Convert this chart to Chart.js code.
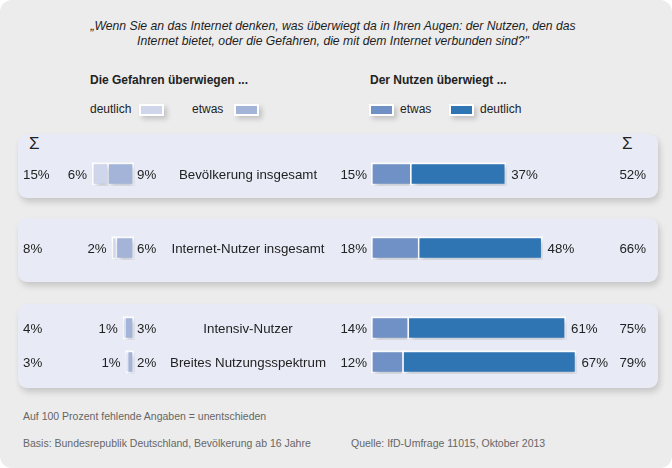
<!DOCTYPE html>
<html>
<head>
<meta charset="utf-8">
<script src="https://cdn.jsdelivr.net/npm/chart.js@4.4.1/dist/chart.umd.min.js"></script>
<style>
  body { margin: 0; background: #fff; font-family: "Liberation Sans", Arial, sans-serif; color: #222; }
  #page { position: absolute; left: 0; top: 0; width: 672px; height: 468px; background: #ececec; border-radius: 12px; overflow: hidden; }
  .t { position: absolute; white-space: nowrap; line-height: 16px; font-size: 12px; }
  .panel { position: absolute; left: 18px; width: 640px; background: #e8ebf6; border-radius: 9px; box-shadow: 2px 4px 6px rgba(0,0,0,0.16); }
  .sw { position: absolute; top: 104px; width: 21px; height: 8px; border: 2px solid #fff; box-shadow: 3px 3px 5px rgba(0,0,0,0.18); }
  canvas { position: absolute; left: 0; }
  .foot { color: #666; font-size: 10.5px; }
</style>
</head>
<body>
<div id="page">
  <div class="t" style="left:0;width:666px;top:19px;text-align:center;font-style:italic;line-height:15px;font-size:12.2px;color:#1e1e1e">„Wenn Sie an das Internet denken, was überwiegt da in Ihren Augen: der Nutzen, den das<br>Internet bietet, oder die Gefahren, die mit dem Internet verbunden sind?"</div>

  <div class="t" style="left:90px;top:72px;font-weight:bold">Die Gefahren überwiegen ...</div>
  <div class="t" style="left:370px;top:72px;font-weight:bold">Der Nutzen überwiegt ...</div>

  <div class="t" style="left:90px;top:101px">deutlich</div>
  <div class="sw" id="sw-gd" style="left:139px"></div>
  <div class="t" style="left:192px;top:101px">etwas</div>
  <div class="sw" id="sw-ge" style="left:234px"></div>
  <div class="sw" id="sw-ne" style="left:369px"></div>
  <div class="t" style="left:400px;top:101px">etwas</div>
  <div class="sw" id="sw-nd" style="left:449px"></div>
  <div class="t" style="left:480px;top:101px">deutlich</div>

  <div class="panel" style="top:134px;height:64px"></div>
  <div class="panel" style="top:218px;height:64px"></div>
  <div class="panel" style="top:304px;height:84px"></div>

  <div class="t" style="left:29px;top:135px;font-size:17px;line-height:18px">Σ</div>
  <div class="t" style="left:622px;top:135px;font-size:17px;line-height:18px">Σ</div>

  <canvas id="p1-left" width="672" height="50" style="top:149px"></canvas>
  <canvas id="p1-right" width="672" height="50" style="top:149px"></canvas>
  <canvas id="p2-left" width="672" height="50" style="top:223px"></canvas>
  <canvas id="p2-right" width="672" height="50" style="top:223px"></canvas>
  <canvas id="p3-left" width="672" height="84" style="top:303px"></canvas>
  <canvas id="p3-right" width="672" height="84" style="top:303px"></canvas>

  <div class="t foot" style="left:23px;top:408px">Auf 100 Prozent fehlende Angaben = unentschieden</div>
  <div class="t foot" style="left:23px;top:435px">Basis: Bundesrepublik Deutschland, Bevölkerung ab 16 Jahre</div>
  <div class="t foot" style="left:351px;top:435px">Quelle: IfD-Umfrage 11015, Oktober 2013</div>
</div>

<script>
const categories = ["Bevölkerung insgesamt", "Internet-Nutzer insgesamt", "Intensiv-Nutzer", "Breites Nutzungsspektrum"];
const gefahrenDeutlich = [6, 2, 1, 1];
const gefahrenEtwas    = [9, 6, 3, 2];
const gefahrenSumme    = [15, 8, 4, 3];
const nutzenEtwas      = [15, 18, 14, 12];
const nutzenDeutlich   = [37, 48, 61, 67];
const nutzenSumme      = [52, 66, 75, 79];
// which rows sit together in one panel
const panelRows = [[0], [1], [2, 3]];

const colors = { gd: "#cfd5eb", ge: "#a3b4d8", ne: "#7091c5", nd: "#2f74b3" };
const FONT = '13.3px "Liberation Sans", Arial, sans-serif';

document.getElementById("sw-gd").style.background = colors.gd;
document.getElementById("sw-ge").style.background = colors.ge;
document.getElementById("sw-ne").style.background = colors.ne;
document.getElementById("sw-nd").style.background = colors.nd;

const pct = v => v + "%";

const barShadow = {
  id: "barShadow",
  beforeDatasetsDraw(chart) {
    const c = chart.ctx;
    c.save();
    c.shadowColor = "rgba(40,50,80,0.28)";
    c.shadowBlur = 5;
    c.shadowOffsetX = 2;
    c.shadowOffsetY = 3;
  },
  afterDatasetsDraw(chart) {
    chart.ctx.restore();
  }
};

const valueLabels = {
  id: "valueLabels",
  afterDraw(chart) {
    const opts = chart.options.plugins.valueLabels;
    const c = chart.ctx;
    const inner = chart.getDatasetMeta(0).data;
    const outer = chart.getDatasetMeta(1).data;
    c.save();
    c.font = FONT;
    c.fillStyle = "#222";
    c.textBaseline = "middle";
    inner.forEach((el, i) => {
      const idx = opts.rows[i];
      const y = el.y + 1;
      if (opts.side === "left") {
        c.textAlign = "left";
        c.fillText(pct(gefahrenSumme[idx]), 23, y);
        c.fillText(pct(gefahrenEtwas[idx]), el.base + 3, y);
        c.textAlign = "right";
        c.fillText(pct(gefahrenDeutlich[idx]), outer[i].x - 5, y);
        c.textAlign = "center";
        c.fillText(categories[idx], 248, y);
      } else {
        c.textAlign = "right";
        c.fillText(pct(nutzenEtwas[idx]), el.base - 4, y);
        c.fillText(pct(nutzenSumme[idx]), 646, y);
        c.textAlign = "left";
        c.fillText(pct(nutzenDeutlich[idx]), outer[i].x + 5, y);
      }
    });
    c.restore();
  }
};

function makeChart(id, rows, side) {
  const left = side === "left";
  const barStyle = { borderColor: "#fff", borderWidth: 2, barThickness: 23, clip: false };
  new Chart(document.getElementById(id), {
    type: "bar",
    data: {
      labels: rows.map(i => categories[i]),
      datasets: [
        Object.assign({
          label: "etwas",
          data: rows.map(i => left ? gefahrenEtwas[i] : nutzenEtwas[i]),
          backgroundColor: left ? colors.ge : colors.ne,
          borderSkipped: "end"
        }, barStyle),
        Object.assign({
          label: "deutlich",
          data: rows.map(i => left ? gefahrenDeutlich[i] : nutzenDeutlich[i]),
          backgroundColor: left ? colors.gd : colors.nd,
          borderSkipped: false
        }, barStyle)
      ]
    },
    options: {
      indexAxis: "y",
      responsive: false,
      animation: false,
      devicePixelRatio: 1,
      layout: {
        padding: left
          ? { left: 78, right: 538, top: 8, bottom: 8 }
          : { left: 371, right: 93, top: 8, bottom: 8 }
      },
      scales: {
        x: { stacked: true, display: false, min: 0, max: left ? 20 : 80, reverse: left },
        y: { stacked: true, display: false }
      },
      plugins: {
        legend: { display: false },
        tooltip: { enabled: false },
        valueLabels: { rows, side }
      }
    },
    plugins: [barShadow, valueLabels]
  });
}

panelRows.forEach((rows, p) => {
  makeChart(`p${p + 1}-left`, rows, "left");
  makeChart(`p${p + 1}-right`, rows, "right");
});
</script>
</body>
</html>
